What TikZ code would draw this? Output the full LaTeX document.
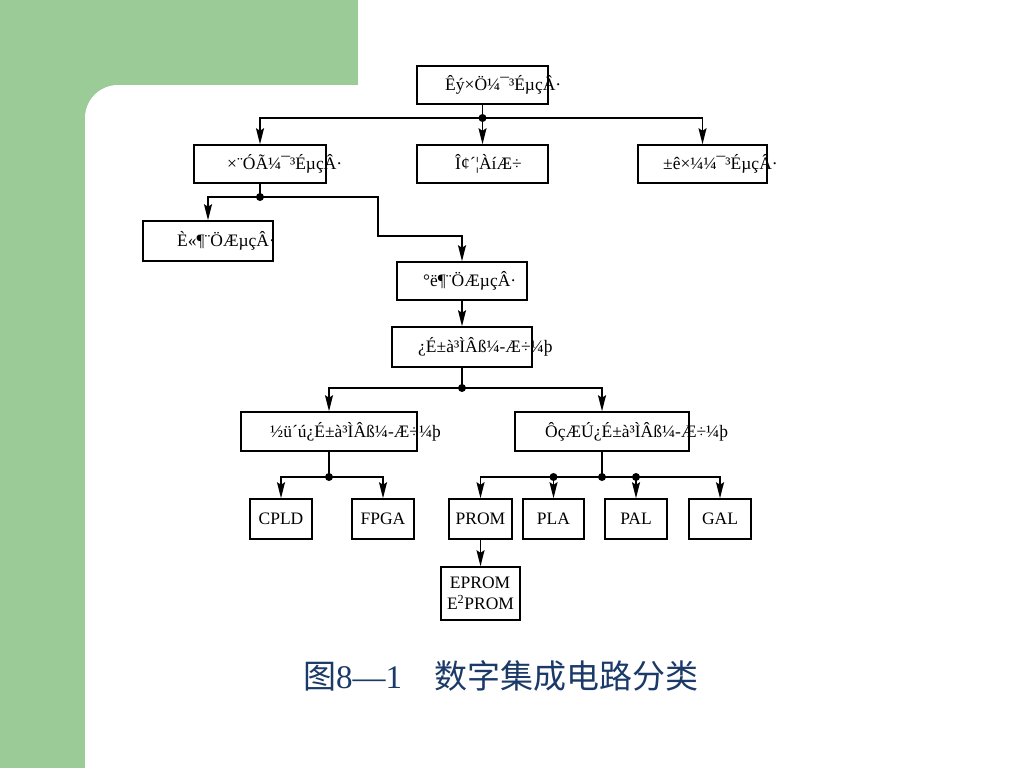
\documentclass[tikz,border=0pt]{standalone}
\usepackage{fontspec}
\setmainfont{Liberation Serif}
\newfontfamily\cjkfont{Noto Sans CJK SC}
\usetikzlibrary{arrows.meta}
\definecolor{slidegreen}{HTML}{9BCB97}
\definecolor{capblue}{HTML}{1B3A68}
\tikzset{
  box/.style={draw, line width=1.5pt, rectangle, inner sep=0pt, fill=none},
  lbl/.style={anchor=west, inner sep=0pt, font=\fontsize{17.5}{20}\selectfont},
  small/.style={inner sep=0pt, font=\fontsize{17.5}{21}\selectfont},
  conn/.style={line width=1.5pt},
  arr/.style={line width=1.5pt, -{Stealth[length=16pt,width=8pt,inset=2.5pt]}},
  jdot/.style={circle, fill=black, inner sep=0pt, minimum size=8pt}
}
\begin{document}
\begin{tikzpicture}[x=1pt,y=-1pt]
\useasboundingbox (0,0) rectangle (1024,768);
% background
\fill[white] (0,0) rectangle (1024,768);
\fill[slidegreen] (0,0) rectangle (358,85);
\fill[slidegreen] (0,0) rectangle (85,768);
\fill[slidegreen] (85,85) rectangle (118,118);
\fill[white] (118,118) circle[radius=33];

% boxes
\node[box, minimum width=131, minimum height=38] (top) at (482.5,85) {};
\node[box, minimum width=132, minimum height=38] (zy) at (260,164) {};
\node[box, minimum width=131, minimum height=38] (wcl) at (482.5,164) {};
\node[box, minimum width=129, minimum height=38] (bz) at (702.5,164) {};
\node[box, minimum width=130, minimum height=40] (qdz) at (208,241) {};
\node[box, minimum width=130, minimum height=38] (bdz) at (462,281) {};
\node[box, minimum width=140, minimum height=40] (kbc) at (462,347) {};
\node[box, minimum width=176, minimum height=39] (jd) at (329,431.5) {};
\node[box, minimum width=174, minimum height=39] (zq) at (602,431.5) {};
\node[box, minimum width=62, minimum height=40] (cpld) at (281,519) {};
\node[box, minimum width=62, minimum height=40] (fpga) at (383,519) {};
\node[box, minimum width=63, minimum height=40] (prom) at (480.5,519) {};
\node[box, minimum width=61, minimum height=40] (pla) at (553.5,519) {};
\node[box, minimum width=62, minimum height=40] (pal) at (636,519) {};
\node[box, minimum width=62, minimum height=40] (gal) at (720,519) {};
\node[box, minimum width=79, minimum height=53] (eprom) at (480.5,593.5) {};

% texts
\node[lbl] (top-t) at (445,85) {Êý×Ö¼¯³ÉµçÂ·};
\node[lbl] (zy-t) at (227,164) {×¨ÓÃ¼¯³ÉµçÂ·};
\node[lbl] (wcl-t) at (455,164) {Î¢´¦ÀíÆ÷};
\node[lbl] (bz-t) at (663,164) {±ê×¼¼¯³ÉµçÂ·};
\node[lbl] (qdz-t) at (177,241) {È«¶¨ÖÆµçÂ·};
\node[lbl] (bdz-t) at (423,281) {°ë¶¨ÖÆµçÂ·};
\node[lbl] (kbc-t) at (418,347) {¿É±à³ÌÂß¼-Æ÷¼þ};
\node[lbl] (jd-t) at (270,431.5) {½ü´ú¿É±à³ÌÂß¼-Æ÷¼þ};
\node[lbl] (zq-t) at (545,431.5) {ÔçÆÚ¿É±à³ÌÂß¼-Æ÷¼þ};
\node[small] (cpld-t) at (cpld) {CPLD};
\node[small] (fpga-t) at (fpga) {FPGA};
\node[small] (prom-t) at (prom) {PROM};
\node[small] (pla-t) at (pla) {PLA};
\node[small] (pal-t) at (pal) {PAL};
\node[small] (gal-t) at (gal) {GAL};
\node[small, align=left] (eprom-t) at (eprom) {\,EPROM\\E\textsuperscript{2}PROM};

% junctions
\coordinate (j1) at (482.5,118);
\coordinate (j2) at (260,197);
\coordinate (bend) at (378,236);
\coordinate (j3) at (462,388);
\coordinate (j4) at (329,477);
\coordinate (j5) at (602,477);
\coordinate (j6) at (553.5,477);
\coordinate (j7) at (636,477);

% connectors
\draw[conn] (top.south) -- (j1);
\draw[arr] (j1) -| (zy.north);
\draw[arr] (j1) -- (wcl.north);
\draw[arr] (j1) -| (bz.north);

\draw[conn] (zy.south) -- (j2);
\draw[arr] (j2) -| (qdz.north);
\draw[arr] (j2) -| (bend) -| (bdz.north);

\draw[arr] (bdz.south) -- (kbc.north);
\draw[conn] (kbc.south) -- (j3);
\draw[arr] (j3) -| (jd.north);
\draw[arr] (j3) -| (zq.north);

\draw[conn] (jd.south) -- (j4);
\draw[arr] (j4) -| (cpld.north);
\draw[arr] (j4) -| (fpga.north);

\draw[conn] (zq.south) -- (j5);
\draw[arr] (j5) -| (prom.north);
\draw[arr] (j5) -| (gal.north);
\draw[arr] (j6) -- (pla.north);
\draw[arr] (j7) -- (pal.north);
\draw[arr] (prom.south) -- (eprom.north);

\foreach \j in {j1,j2,j3,j4,j5,j6,j7} \node[jdot] at (\j) {};

% caption
\node[capblue, inner sep=0pt, anchor=west] (cap) at (303,676)
  {\fontsize{33}{38}\selectfont{\cjkfont 图}8—1\hspace{32pt}{\cjkfont 数字集成电路分类}};
\end{tikzpicture}
\end{document}
